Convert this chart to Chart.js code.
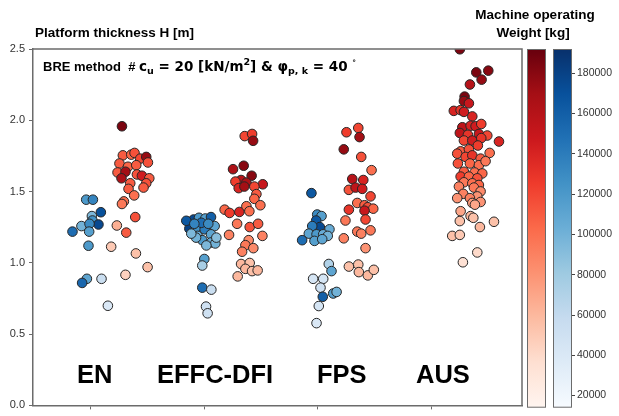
<!DOCTYPE html>
<html>
<head>
<meta charset="utf-8">
<script src="https://cdn.jsdelivr.net/npm/chart.js@4.4.1/dist/chart.umd.min.js"></script>
<style>
  html, body { margin: 0; padding: 0; background: #fff; }
  #wrap { position: relative; width: 619px; height: 416px; }
  #main { position: absolute; left: 0; top: 0; }
  #cbar { position: absolute; left: 523px; top: 0; }
</style>
</head>
<body>
<div id="wrap">
  <canvas id="main" width="619" height="416"></canvas>
  <canvas id="cbar" width="96" height="416"></canvas>
</div>
<script>
// categories on the x axis
const categories = ['EN', 'EFFC-DFI', 'FPS', 'AUS'];
const yTicks = [0, 0.5, 1.0, 1.5, 2.0, 2.5];
const weightTicks = [20000, 40000, 60000, 80000, 100000, 120000, 140000, 160000, 180000];
const weightMin = 14000;
const weightMax = 192000;

// each point: [offset from category centre, H [m], machine weight [kg]]
const enBlue = [
  [-0.041, 1.443, 120000], [0.018, 1.443, 135000], [0.088, 1.355, 170000], [0.009, 1.328, 95000],
  [0.014, 1.297, 125000], [0.067, 1.269, 175000], [-0.083, 1.258, 100000], [-0.012, 1.274, 130000],
  [-0.162, 1.219, 150000], [-0.015, 1.219, 115000], [-0.021, 1.12, 120000], [-0.035, 0.888, 110000],
  [-0.077, 0.859, 155000], [0.094, 0.888, 55000], [0.15, 0.699, 40000]
];
const enRed = [
  [0.274, 1.958, 185000], [0.282, 1.754, 110000], [0.356, 1.759, 105000], [0.385, 1.771, 115000],
  [0.435, 1.731, 120000], [0.488, 1.743, 175000], [0.503, 1.704, 115000], [0.252, 1.697, 110000],
  [0.327, 1.674, 105000], [0.4, 1.685, 110000], [0.235, 1.634, 110000], [0.305, 1.639, 170000],
  [0.27, 1.593, 165000], [0.406, 1.62, 115000], [0.45, 1.611, 145000], [0.515, 1.593, 110000],
  [0.347, 1.558, 110000], [0.488, 1.558, 115000], [0.464, 1.528, 110000], [0.332, 1.519, 110000],
  [0.382, 1.473, 100000], [0.291, 1.431, 100000], [0.274, 1.413, 95000], [0.391, 1.321, 115000],
  [0.229, 1.262, 65000], [0.312, 1.212, 110000], [0.179, 1.113, 50000], [0.397, 1.066, 55000],
  [0.5, 0.97, 55000], [0.305, 0.916, 45000]
];
const effcBlue = [
  [-0.094, 1.304, 175000], [-0.047, 1.316, 120000], [0.009, 1.311, 115000], [0.059, 1.321, 160000],
  [-0.132, 1.24, 180000], [-0.071, 1.247, 125000], [0.003, 1.235, 140000], [0.091, 1.258, 110000],
  [-0.059, 1.189, 105000], [0.059, 1.2, 110000], [-0.018, 1.159, 120000], [0.059, 1.143, 105000],
  [0.097, 1.136, 100000], [-0.073, 1.177, 100000], [0.0, 1.027, 115000], [-0.018, 0.981, 75000],
  [-0.018, 0.826, 150000], [0.062, 0.812, 55000], [0.015, 0.693, 50000], [0.029, 0.646, 50000],
  [-0.159, 1.295, 165000], [-0.026, 1.281, 150000], [0.035, 1.274, 130000], [-0.115, 1.205, 95000],
  [0.106, 1.177, 90000], [0.018, 1.122, 95000], [-0.088, 1.274, 135000]
];
const effcRed = [
  [0.356, 1.889, 120000], [0.421, 1.904, 125000], [0.43, 1.856, 175000], [0.347, 1.681, 180000],
  [0.253, 1.657, 165000], [0.417, 1.611, 180000], [0.324, 1.581, 160000], [0.274, 1.57, 125000],
  [0.371, 1.563, 165000], [0.515, 1.551, 150000], [0.441, 1.535, 120000], [0.303, 1.524, 140000],
  [0.353, 1.535, 170000], [0.459, 1.482, 110000], [0.441, 1.449, 105000], [0.179, 1.373, 105000],
  [0.223, 1.35, 125000], [0.309, 1.357, 140000], [0.371, 1.397, 100000], [0.397, 1.362, 100000],
  [0.494, 1.404, 100000], [0.289, 1.274, 95000], [0.4, 1.251, 115000], [0.474, 1.274, 110000],
  [0.218, 1.196, 90000], [0.512, 1.189, 90000], [0.391, 1.159, 85000], [0.362, 1.124, 95000],
  [0.432, 1.103, 85000], [0.333, 1.078, 90000], [0.324, 0.992, 60000], [0.4, 0.999, 55000],
  [0.362, 0.958, 60000], [0.421, 0.942, 55000], [0.47, 0.947, 60000], [0.294, 0.905, 60000]
];
const fpsBlue = [
  [-0.056, 1.489, 165000], [-0.005, 1.339, 130000], [0.033, 1.328, 115000], [-0.014, 1.297, 165000],
  [0.018, 1.251, 175000], [-0.049, 1.258, 140000], [0.103, 1.235, 105000], [-0.079, 1.205, 110000],
  [-0.011, 1.2, 120000], [0.048, 1.2, 105000], [0.088, 1.189, 100000], [-0.138, 1.159, 150000],
  [-0.029, 1.154, 115000], [0.039, 1.166, 110000], [0.097, 0.992, 70000], [0.121, 0.942, 110000],
  [-0.041, 0.888, 45000], [0.048, 0.888, 45000], [0.024, 0.826, 50000], [0.136, 0.785, 115000],
  [0.166, 0.796, 100000], [0.044, 0.762, 160000], [0.009, 0.697, 45000], [-0.011, 0.577, 40000]
];
const fpsRed = [
  [0.253, 1.916, 125000], [0.357, 1.946, 120000], [0.368, 1.882, 170000], [0.229, 1.796, 175000],
  [0.383, 1.743, 115000], [0.474, 1.65, 100000], [0.304, 1.588, 160000], [0.401, 1.581, 140000],
  [0.274, 1.512, 115000], [0.333, 1.528, 155000], [0.392, 1.519, 145000], [0.465, 1.466, 120000],
  [0.348, 1.42, 100000], [0.412, 1.404, 110000], [0.441, 1.39, 115000], [0.489, 1.38, 105000],
  [0.274, 1.373, 130000], [0.412, 1.366, 150000], [0.244, 1.297, 95000], [0.421, 1.304, 120000],
  [0.348, 1.219, 95000], [0.383, 1.205, 90000], [0.465, 1.228, 95000], [0.229, 1.172, 90000],
  [0.421, 1.103, 80000], [0.274, 0.974, 55000], [0.357, 0.988, 55000], [0.362, 0.935, 60000],
  [0.441, 0.912, 60000], [0.494, 0.951, 55000]
];
const ausRed = [
  [0.252, 2.498, 185000], [0.397, 2.336, 185000], [0.503, 2.348, 180000], [0.444, 2.285, 175000],
  [0.341, 2.251, 160000], [0.294, 2.166, 185000], [0.288, 2.135, 175000], [0.332, 2.119, 150000],
  [0.199, 2.066, 140000], [0.259, 2.071, 130000], [0.288, 2.059, 145000], [0.362, 2.027, 140000],
  [0.274, 1.951, 155000], [0.347, 1.962, 140000], [0.391, 1.958, 145000], [0.441, 1.974, 125000],
  [0.252, 1.911, 155000], [0.323, 1.898, 130000], [0.42, 1.904, 150000], [0.494, 1.893, 120000],
  [0.597, 1.851, 140000], [0.288, 1.858, 120000], [0.362, 1.858, 145000], [0.441, 1.875, 130000],
  [0.411, 1.823, 125000], [0.259, 1.782, 110000], [0.332, 1.796, 115000], [0.229, 1.766, 115000],
  [0.303, 1.743, 120000], [0.362, 1.754, 130000], [0.515, 1.771, 100000], [0.435, 1.731, 110000],
  [0.235, 1.697, 115000], [0.341, 1.697, 105000], [0.42, 1.685, 100000], [0.479, 1.713, 95000],
  [0.288, 1.639, 110000], [0.382, 1.634, 100000], [0.45, 1.627, 105000], [0.259, 1.605, 125000],
  [0.332, 1.605, 105000], [0.406, 1.593, 115000], [0.288, 1.565, 95000], [0.362, 1.558, 100000],
  [0.42, 1.546, 105000], [0.244, 1.535, 90000], [0.376, 1.528, 95000], [0.435, 1.501, 85000],
  [0.282, 1.484, 90000], [0.406, 1.466, 80000], [0.229, 1.454, 80000], [0.341, 1.454, 90000],
  [0.362, 1.42, 75000], [0.435, 1.427, 80000], [0.385, 1.408, 70000], [0.259, 1.362, 70000],
  [0.252, 1.293, 55000], [0.347, 1.328, 60000], [0.371, 1.316, 55000], [0.429, 1.251, 60000],
  [0.553, 1.288, 55000], [0.185, 1.189, 55000], [0.252, 1.196, 50000], [0.406, 1.073, 40000],
  [0.279, 1.004, 35000]
];

// matplotlib Reds / Blues colormaps (9 colour anchors)
const redsMap = ['#fff5f0', '#fee0d2', '#fcbba1', '#fc9272', '#fb6a4a', '#ef3b2c', '#cb181d', '#a50f15', '#67000d'];
const bluesMap = ['#f7fbff', '#deebf7', '#c6dbef', '#9ecae1', '#6baed6', '#4292c6', '#2171b5', '#08519c', '#08306b'];

function hexToRgb(h) {
  return [parseInt(h.slice(1, 3), 16), parseInt(h.slice(3, 5), 16), parseInt(h.slice(5, 7), 16)];
}
function colorFor(stops, w) {
  let t = (w - weightMin) / (weightMax - weightMin);
  t = Math.max(0, Math.min(1, t));
  const pos = t * (stops.length - 1);
  const i = Math.min(Math.floor(pos), stops.length - 2);
  const f = pos - i;
  const a = hexToRgb(stops[i]), b = hexToRgb(stops[i + 1]);
  const c = a.map((v, k) => Math.round(v + (b[k] - v) * f));
  return `rgb(${c[0]},${c[1]},${c[2]})`;
}

const series = [
  { cat: 0, map: bluesMap, pts: enBlue },
  { cat: 0, map: redsMap, pts: enRed },
  { cat: 1, map: bluesMap, pts: effcBlue },
  { cat: 1, map: redsMap, pts: effcRed },
  { cat: 2, map: bluesMap, pts: fpsBlue },
  { cat: 2, map: redsMap, pts: fpsRed },
  { cat: 3, map: redsMap, pts: ausRed }
];

const datasets = series.map(s => ({
  data: s.pts.map(p => ({ x: s.cat + p[0], y: p[1] })),
  pointBackgroundColor: s.pts.map(p => colorFor(s.map, p[2])),
  pointBorderColor: '#262626',
  pointBorderWidth: 1,
  pointRadius: 4.8,
  pointHoverRadius: 4.8,
  clip: 0
}));

const AXIS = '#6b6b6b';
const SANS = '"Liberation Sans", Arial, sans-serif';
const MATH = '"DejaVu Sans", sans-serif';

// texts, frame and annotation on the main chart
const textPlugin = {
  id: 'texts',
  afterDraw(chart) {
    const ctx = chart.ctx;
    const a = chart.chartArea;
    ctx.save();
    ctx.strokeStyle = AXIS;
    ctx.lineWidth = 1.5;
    ctx.beginPath();
    ctx.moveTo(a.left, a.top);
    ctx.lineTo(a.right, a.top);
    ctx.lineTo(a.right, a.bottom);
    ctx.stroke();

    ctx.fillStyle = '#000';
    ctx.textBaseline = 'alphabetic';
    ctx.textAlign = 'left';
    ctx.font = 'bold 13.5px ' + SANS;
    ctx.fillText('Platform thickness H [m]', 35, 37);

    ctx.textAlign = 'center';
    ctx.fillText('Machine operating', 535, 19);
    ctx.fillText('Weight [kg]', 533, 37);

    // BRE annotation with sub/superscripts
    ctx.textAlign = 'left';
    const parts = [
      { t: 'BRE method  # ', f: 'bold 13px ' + SANS, dy: 0 },
      { t: 'c', f: 'bold 13.5px ' + MATH, dy: 0 },
      { t: 'u', f: 'bold 9.5px ' + MATH, dy: 3 },
      { t: ' = 20 [kN/m', f: 'bold 13.5px ' + MATH, dy: 0 },
      { t: '2', f: 'bold 9.5px ' + MATH, dy: -6 },
      { t: '] & ', f: 'bold 13.5px ' + MATH, dy: 0 },
      { t: 'φ', f: 'bold 13.5px ' + MATH, dy: 0 },
      { t: 'p, k', f: 'bold 9.5px ' + MATH, dy: 3 },
      { t: ' = 40 ', f: 'bold 13.5px ' + MATH, dy: 0 },
      { t: '°', f: 'bold 7.5px ' + MATH, dy: -6 }
    ];
    let x = 43;
    const base = 71;
    parts.forEach(p => {
      ctx.font = p.f;
      ctx.fillText(p.t, x, base + p.dy);
      x += ctx.measureText(p.t).width;
    });

    // group names
    ctx.font = 'bold 25.5px ' + SANS;
    const labelX = [77, 157, 317, 416];
    categories.forEach((c, i) => ctx.fillText(c, labelX[i], 383));
    ctx.restore();
  }
};

new Chart(document.getElementById('main'), {
  type: 'scatter',
  data: { datasets: datasets },
  options: {
    responsive: false,
    animation: false,
    layout: { padding: { left: 0, top: 49, right: 97, bottom: 0 } },
    plugins: { legend: { display: false }, tooltip: { enabled: false } },
    scales: {
      x: {
        type: 'linear',
        min: -0.51,
        max: 3.8,
        afterBuildTicks: s => { s.ticks = categories.map((c, i) => ({ value: i })); },
        afterFit: s => { s.height = 6; },
        ticks: { display: false },
        grid: { drawOnChartArea: false, tickLength: 4, color: AXIS },
        border: { color: AXIS, width: 1.5 }
      },
      y: {
        min: 0,
        max: 2.5,
        afterBuildTicks: s => { s.ticks = yTicks.map(v => ({ value: v })); },
        afterFit: s => { s.width = 33; },
        ticks: {
          callback: v => v.toFixed(1),
          font: { family: SANS, size: 11 },
          color: '#333',
          padding: 4
        },
        grid: { drawOnChartArea: false, tickLength: 4, color: AXIS },
        border: { color: AXIS, width: 1.5 }
      }
    }
  },
  plugins: [textPlugin]
});

// colour bars (Reds and Blues) sharing one weight axis
const cbarPlugin = {
  id: 'cbars',
  beforeDatasetsDraw(chart) {
    const ctx = chart.ctx;
    const a = chart.chartArea;
    const ys = chart.scales.y;
    const yBot = ys.getPixelForValue(weightMin);
    const yTop = ys.getPixelForValue(weightMax);
    const bars = [
      { map: redsMap, l: a.left - 26, r: a.left - 7 },
      { map: bluesMap, l: a.left, r: a.right }
    ];
    ctx.save();
    bars.forEach(b => {
      const g = ctx.createLinearGradient(0, yBot, 0, yTop);
      b.map.forEach((c, i) => g.addColorStop(i / (b.map.length - 1), c));
      ctx.fillStyle = g;
      ctx.fillRect(b.l, yTop, b.r - b.l, yBot - yTop);
      ctx.strokeStyle = AXIS;
      ctx.lineWidth = 1;
      ctx.strokeRect(b.l + 0.5, yTop + 0.5, b.r - b.l - 1, yBot - yTop - 1);
    });
    ctx.restore();
  }
};

new Chart(document.getElementById('cbar'), {
  type: 'scatter',
  data: { datasets: [] },
  options: {
    responsive: false,
    animation: false,
    layout: { padding: { left: 30, top: 49, right: 0, bottom: 6 } },
    plugins: { legend: { display: false }, tooltip: { enabled: false } },
    scales: {
      x: { display: false, min: 0, max: 1 },
      y: {
        position: 'right',
        min: weightMin,
        max: weightMax,
        afterBuildTicks: s => { s.ticks = weightTicks.map(v => ({ value: v })); },
        afterFit: s => { s.width = 47; },
        ticks: {
          callback: v => String(v),
          font: { family: SANS, size: 10.5 },
          color: '#333',
          padding: 2
        },
        grid: { drawOnChartArea: false, tickLength: 3, color: '#444' },
        border: { display: false }
      }
    }
  },
  plugins: [cbarPlugin]
});
</script>
</body>
</html>
